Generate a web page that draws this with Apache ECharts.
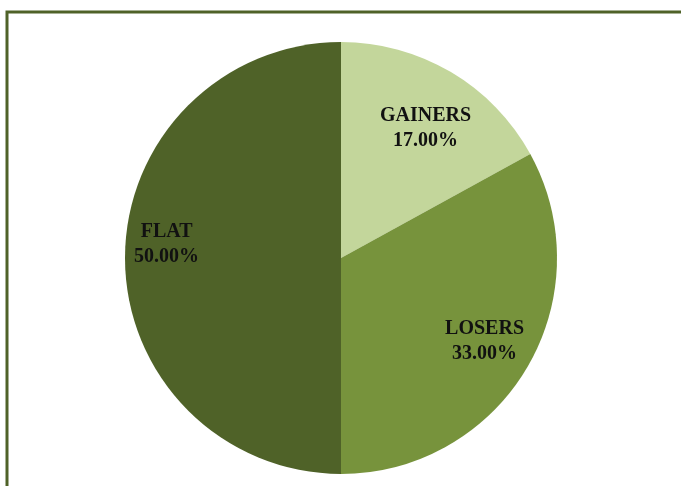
<!DOCTYPE html>
<html>
<head>
<meta charset="utf-8">
<script src="https://cdn.jsdelivr.net/npm/echarts@6/dist/echarts.min.js"></script>
<style>
  html, body { margin: 0; padding: 0; background: #fff; }
  #main { width: 681px; height: 486px; }
</style>
</head>
<body>
<div id="main"></div>
<script>
const names = ["GAINERS", "LOSERS", "FLAT"];
const shares = [17.0, 33.0, 50.0];
const colors = ["#c3d69b", "#77933c", "#4f6228"];

// label placement: fraction of radius, and small angle nudge (deg)
const labelDist = [0.718, 0.769, 0.81];
const labelTurn = [2.4, -0.4, 4.6];

let chart = echarts.init(document.getElementById("main"));
const cx = 341, cy = 258, r = 216;

let option = {
  backgroundColor: "#fff",
  animation: false,
  graphic: [
    {
      type: "rect",
      shape: { x: 7, y: 12, width: 720, height: 520 },
      style: { fill: "none", stroke: "#4f6228", lineWidth: 3 },
      z: 10,
    },
  ],
  series: [
    {
      type: "pie",
      center: [cx, cy],
      radius: r,
      startAngle: 90,
      clockwise: true,
      data: names.map((n, i) => ({
        name: n,
        value: shares[i],
        itemStyle: { color: colors[i] },
      })),
      itemStyle: { borderWidth: 0 },
      label: {
        show: true,
        position: "inside",
        formatter: (p) => p.name + "\n" + p.value.toFixed(2) + "%",
        fontFamily: "Liberation Serif",
        fontWeight: "bold",
        fontSize: 20,
        lineHeight: 25,
        color: "#111",
        align: "center",
      },
      labelLine: { show: false },
      labelLayout: function (params) {
        let i = params.dataIndex;
        let before = shares.slice(0, i).reduce((a, b) => a + b, 0);
        let mid = ((before + shares[i] / 2) / 100) * 2 * Math.PI + (labelTurn[i] * Math.PI) / 180;
        let d = labelDist[i] * r;
        return {
          x: cx + d * Math.sin(mid),
          y: cy - d * Math.cos(mid),
          align: "center",
          verticalAlign: "middle",
        };
      },
    },
  ],
};
chart.setOption(option);
</script>
</body>
</html>
